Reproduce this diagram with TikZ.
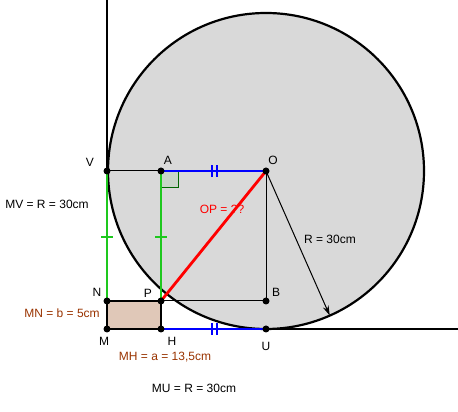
\documentclass[tikz,border=0pt]{standalone}
\usepackage{fontspec}
\setmainfont{Liberation Sans}
\usetikzlibrary{arrows.meta,calc}

\definecolor{segGreen}{RGB}{30,200,30}
\definecolor{segBlue}{RGB}{0,0,255}
\definecolor{segRed}{RGB}{255,0,0}
\definecolor{txtBrown}{RGB}{153,51,0}
\definecolor{rectFill}{RGB}{224,200,184}
\definecolor{discFill}{RGB}{217,217,217}
\definecolor{angFill}{RGB}{200,212,200}

\tikzset{
  pt/.style={circle,fill=black,inner sep=0pt,minimum size=7pt},
  lbl/.style={inner sep=1pt,font=\fontsize{12}{14}\selectfont},
  thin line/.style={draw=black,line width=1pt},
  thick seg/.style={line width=2.8pt},
}

\begin{document}
\begin{tikzpicture}[x=1pt,y=1pt]
  \useasboundingbox (0,0) rectangle (458,412);

  % circle
  \draw[fill=discFill,line width=2.2pt] (266,241) circle (158);

  % axes
  \draw[line width=2.2pt] (107,412) -- (107,83) -- (458,83);

  % points
  \coordinate (O) at (266,241);
  \coordinate (V) at (107,241);
  \coordinate (A) at (161,241);
  \coordinate (N) at (107,111);
  \coordinate (P) at (161,111);
  \coordinate (B) at (266,111);
  \coordinate (M) at (107,83);
  \coordinate (H) at (161,83);
  \coordinate (U) at (266,83);
  \coordinate (T) at ($(O)+(-66.2:158)$);

  % rectangle MNPH
  \draw[fill=rectFill,line width=2.2pt] (M) rectangle (P);

  % right angle at A
  \draw[draw=green!40!black,fill=angFill,line width=1pt] (A) rectangle ++(17,-17);

  % thin lines
  \draw[thin line] (V) -- (A);
  \draw[thin line] (O) -- (B);
  \draw[thin line] (P) -- (B);
  \draw[thin line,-{Stealth[length=10pt,width=6pt]}] (O) -- (T);

  % coloured segments
  \draw[thick seg,segGreen] (V) -- (N);
  \draw[thick seg,segGreen] (A) -- (P);
  \draw[thick seg,segBlue] (A) -- (O);
  \draw[thick seg,segBlue] (H) -- (U);
  \draw[thick seg,segRed] (O) -- (P);

  % tick marks
  \foreach \x in {107,161}
    \draw[segGreen,line width=2pt] (\x-6,175) -- (\x+6,175);
  \foreach \y in {241,83}
    \foreach \dx in {-2.5,2.5}
      \draw[segBlue,line width=2pt] (214+\dx,\y-6) -- (214+\dx,\y+6);

  % dots
  \foreach \p in {O,V,A,N,P,B,M,H,U}
    \node[pt] at (\p) {};

  % point labels
  \node[lbl] (labV) at (90,250) {V};
  \node[lbl] (labA) at (168,252) {A};
  \node[lbl] (labO) at (273,252) {O};
  \node[lbl] (labN) at (97,120) {N};
  \node[lbl] (labP) at (148,119) {P};
  \node[lbl] (labB) at (276,120) {B};
  \node[lbl] (labM) at (104,71) {M};
  \node[lbl] (labH) at (172,71) {H};
  \node[lbl] (labU) at (266,66) {U};

  % measures
  \node[lbl] (mv) at (47,208) {MV = R = 30cm};
  \node[lbl,txtBrown] (mn) at (62,99) {MN = b = 5cm};
  \node[lbl,txtBrown] (mh) at (165,55) {MH = a = 13,5cm};
  \node[lbl] (mu) at (194,24) {MU = R = 30cm};
  \node[lbl,segRed] (op) at (222,203) {OP = ??};
  \node[lbl] (rr) at (330,173) {R = 30cm};
\end{tikzpicture}
\end{document}
